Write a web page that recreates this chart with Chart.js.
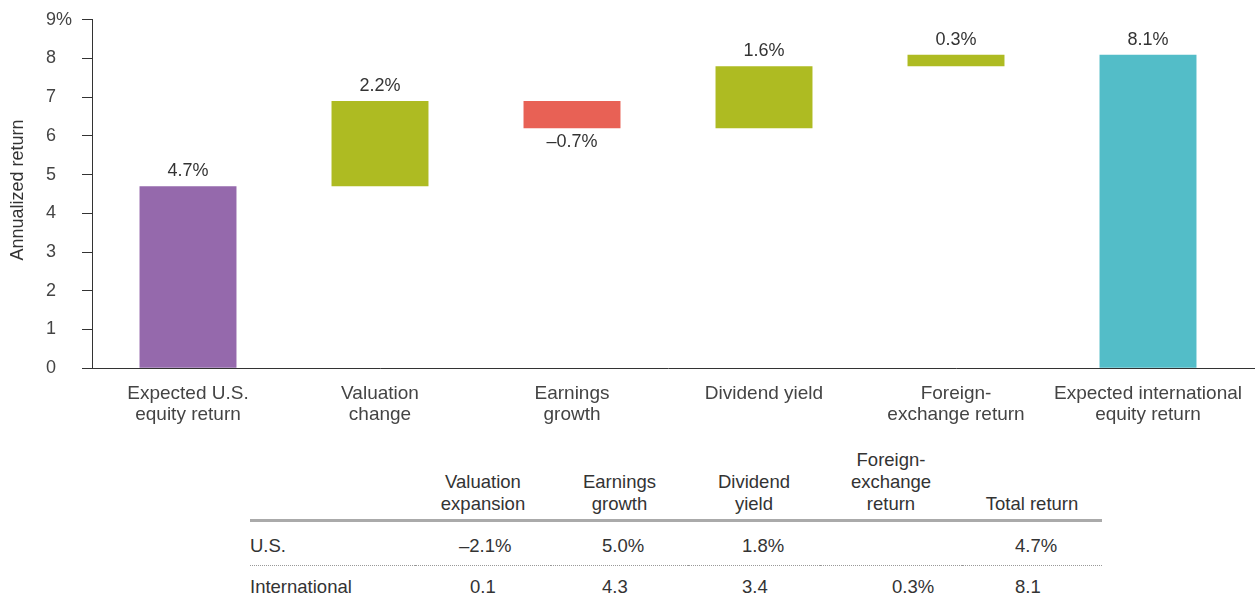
<!DOCTYPE html>
<html>
<head>
<meta charset="utf-8">
<script src="https://cdn.jsdelivr.net/npm/chart.js@4.4.1/dist/chart.umd.min.js"></script>
<style>
  body { margin: 0; background: #fff; font-family: "Liberation Sans", Arial, sans-serif; color: #333; }
  #wrap { position: relative; width: 1255px; height: 605px; }
  #chartBox { position: absolute; left: 0; top: 0; width: 1255px; height: 432px; }
  #tbl { position: absolute; left: 250px; top: 449px; border-collapse: collapse; table-layout: fixed; font-size: 18.5px; color: #333; }
  #tbl th { font-weight: normal; text-align: center; vertical-align: bottom; line-height: 22px; padding: 0 0 4px 0; border-bottom: 3px solid #aaa; }
  #tbl td { line-height: 22px; text-align: left; white-space: nowrap; }
  #tbl tr.us td { padding-top: 13px; padding-bottom: 8px; border-bottom: 1px dotted #999; }
  #tbl tr.intl td { padding-top: 10px; padding-bottom: 6px; }
  .neg { display: inline-block; margin-left: -11px; }
</style>
</head>
<body>
<div id="wrap">
  <div id="chartBox"><canvas id="chart"></canvas></div>
  <table id="tbl"></table>
</div>
<script>
// chart data
const categories = [
    ['Expected U.S.', 'equity return'],
    ['Valuation', 'change'],
    ['Earnings', 'growth'],
    ['Dividend yield'],
    ['Foreign-', 'exchange return'],
    ['Expected international', 'equity return']
];
const barStart = [0, 4.7, 6.9, 6.2, 7.8, 0];
const barEnd = [4.7, 6.9, 6.2, 7.8, 8.1, 8.1];
const barLabels = ['4.7%', '2.2%', '\u20130.7%', '1.6%', '0.3%', '8.1%'];
const barColors = ['#9569ac', '#aebb22', '#e86155', '#aebb22', '#aebb22', '#53bdc8'];

// table data
const tableHeaders = [[''], ['Valuation', 'expansion'], ['Earnings', 'growth'], ['Dividend', 'yield'], ['Foreign-', 'exchange', 'return'], ['Total return']];
const usRow = ['U.S.', '\u20132.1%', '5.0%', '1.8%', '', '4.7%'];
const intlRow = ['International', '0.1', '4.3', '3.4', '0.3%', '8.1'];

const FONT = '"Liberation Sans", Arial, sans-serif';

// 1. Table below the chart
const colWidths = [165, 136, 137, 132, 142, 140];
const colPad = [0, 55, 51, 54, 72, 53];
const tbl = document.getElementById('tbl');
let html = '<colgroup>' + colWidths.map(w => `<col style="width:${w}px">`).join('') + '</colgroup>';
html += '<tr>' + tableHeaders.map(h => `<th>${h.join('<br>')}</th>`).join('') + '</tr>';
const cell = (v, i) => {
    const txt = v.startsWith('\u2013') ? `<span class="neg">${v}</span>` : v;
    return `<td style="padding-left:${colPad[i]}px">${txt}</td>`;
};
html += '<tr class="us">' + usRow.map(cell).join('') + '</tr>';
html += '<tr class="intl">' + intlRow.map(cell).join('') + '</tr>';
tbl.innerHTML = html;

// 2. Plugins: value labels, y-axis title, x-axis line run-out
const valueLabels = {
    id: 'valueLabels',
    afterDatasetsDraw(chart) {
        const { ctx } = chart;
        const y = chart.scales.y;
        ctx.save();
        ctx.font = '18px ' + FONT;
        ctx.fillStyle = '#333';
        ctx.textAlign = 'center';
        ctx.textBaseline = 'middle';
        chart.getDatasetMeta(0).data.forEach((bar, i) => {
            const down = barEnd[i] < barStart[i];
            const top = y.getPixelForValue(Math.max(barStart[i], barEnd[i]));
            const bottom = y.getPixelForValue(Math.min(barStart[i], barEnd[i]));
            ctx.fillText(barLabels[i], bar.x, down ? bottom + 14 : top - 15);
        });
        ctx.restore();
    }
};

const yTitle = {
    id: 'yTitle',
    afterDraw(chart) {
        const { ctx, chartArea } = chart;
        ctx.save();
        // extend the baseline to the right edge, as in the original
        ctx.strokeStyle = '#333';
        ctx.lineWidth = 1;
        ctx.beginPath();
        ctx.moveTo(chartArea.right, Math.round(chartArea.bottom) + 0.5);
        ctx.lineTo(chart.width, Math.round(chartArea.bottom) + 0.5);
        ctx.stroke();

        ctx.translate(18, (chartArea.top + chartArea.bottom) / 2 - 4);
        ctx.rotate(-Math.PI / 2);
        ctx.font = '18px ' + FONT;
        ctx.fillStyle = '#333';
        ctx.textAlign = 'center';
        ctx.textBaseline = 'middle';
        ctx.fillText('Annualized return', 0, 0);
        ctx.restore();
    }
};

// 3. Waterfall chart (floating bars)
new Chart(document.getElementById('chart'), {
    type: 'bar',
    data: {
        labels: categories,
        datasets: [{
            data: barStart.map((s, i) => [s, barEnd[i]]),
            backgroundColor: barColors,
            borderWidth: 0,
            barPercentage: 0.505,
            categoryPercentage: 1
        }]
    },
    options: {
        responsive: true,
        maintainAspectRatio: false,
        animation: false,
        layout: { padding: { left: 46, top: 17, right: 11, bottom: 0 } },
        plugins: { legend: { display: false }, tooltip: { enabled: false } },
        scales: {
            x: {
                grid: { display: false },
                border: { display: true, color: '#333', width: 1 },
                ticks: { color: '#444', font: { family: FONT, size: 19, lineHeight: 1.1 }, padding: 7, maxRotation: 0, autoSkip: false }
            },
            y: {
                min: 0,
                max: 9,
                afterFit: scale => { scale.width = 46; },
                grid: { drawOnChartArea: false, drawTicks: true, tickLength: 10, color: '#333' },
                border: { display: true, color: '#333', width: 1 },
                ticks: {
                    stepSize: 1,
                    crossAlign: 'far',
                    padding: 9,
                    color: '#444',
                    font: { family: FONT, size: 18 },
                    callback: v => v === 9 ? '9%' : v
                }
            }
        }
    },
    plugins: [valueLabels, yTitle]
});
</script>
</body>
</html>
